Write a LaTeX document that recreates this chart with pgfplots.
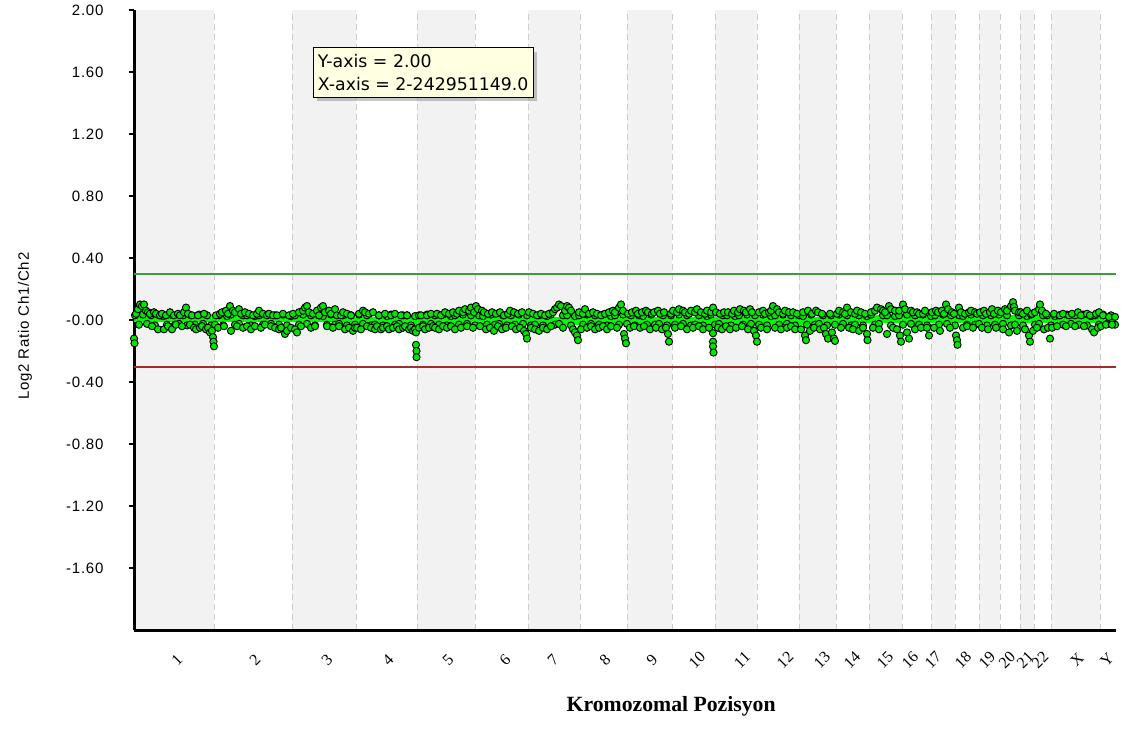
\documentclass[border=0pt]{standalone}
\usepackage{pgfplots}
\pgfplotsset{compat=1.18}
\usepackage{pgfplotstable}
\usepackage{fontspec}
\setmainfont{Liberation Serif}
\newfontfamily\arialfont{Liberation Sans}[LetterSpace=5]
\newfontfamily\tipfont{DejaVu Sans}
\usetikzlibrary{shadows}
\definecolor{bandgray}{RGB}{242,242,242}
\definecolor{gridgray}{RGB}{205,205,205}
\definecolor{ptgreen}{RGB}{0,230,0}
\definecolor{segline}{RGB}{0,255,0}
\definecolor{thrgreen}{RGB}{60,155,60}
\definecolor{thrred}{RGB}{160,45,45}
\definecolor{tipyellow}{RGB}{255,255,225}

\pgfplotstableread[row sep=\\]{
x y\\
0 -0.12\\ 0.5 -0.15\\ 2 0.04\\ 4 0.07\\ 6 0.1\\ 8 0.09\\ 10 0.1\\ 12 0.06\\ 14 0.05\\ 16 0.04\\
18 -0.04\\ 20 0.05\\ 22 0.04\\ 24 -0.06\\ 26 0.03\\ 28 0.04\\ 30 -0.06\\ 32 0.03\\ 34 -0.04\\ 36 0.05\\
38 -0.06\\ 40 0.03\\ 42 -0.03\\ 44 0.04\\ 46 0.03\\ 48 -0.04\\ 50 0.05\\ 52 0.08\\ 54 0.04\\ 56 -0.03\\
58 0.03\\ 60 -0.05\\ 62 -0.06\\ 64 0.03\\ 66 -0.05\\ 68 -0.04\\ 70 0.04\\ 72 -0.06\\ 74 -0.05\\ 76 -0.08\\
78 -0.07\\ 79 -0.11\\ 79.5 -0.14\\ 80 -0.17\\
82 0.03\\ 84 -0.05\\ 86 0.04\\ 88 0.05\\ 90 -0.04\\ 92 0.06\\ 94 0.04\\ 96 0.09\\ 97 -0.07\\ 99 0.06\\
101 0.05\\ 103 -0.04\\ 105 0.07\\ 107 0.04\\ 109 -0.05\\ 111 0.05\\ 113 -0.04\\ 115 0.04\\ 117 -0.06\\ 119 0.03\\
121 -0.04\\ 123 0.04\\ 125 0.06\\ 127 -0.05\\ 129 0.04\\ 131 -0.03\\ 133 0.03\\ 135 0.04\\ 137 -0.04\\ 139 0.03\\
141 -0.05\\ 143 0.03\\ 145 -0.06\\ 147 -0.05\\ 149 0.04\\ 151 -0.09\\ 153 -0.07\\ 155 0.03\\ 157 -0.05\\
159 0.04\\ 161 -0.06\\ 163 -0.08\\ 165 0.05\\ 167 -0.04\\ 169 0.06\\ 171 0.08\\ 173 0.09\\ 175 0.05\\ 177 -0.05\\
179 0.04\\ 181 -0.04\\ 183 0.06\\ 185 0.03\\ 187 0.08\\ 189 0.09\\ 191 0.05\\ 193 -0.04\\ 195 0.06\\ 197 0.04\\
199 -0.05\\ 201 0.07\\ 203 0.03\\ 205 -0.04\\ 207 0.03\\ 209 0.05\\ 211 -0.06\\ 213 0.04\\ 215 -0.05\\ 217 0.03\\
219 -0.07\\ 221 -0.05\\
223 -0.05\\ 225 0.04\\ 227 -0.06\\ 229 0.06\\ 231 0.05\\ 233 -0.04\\ 235 0.04\\ 237 -0.05\\ 239 0.05\\ 241 -0.06\\
243 -0.04\\ 245 0.03\\ 247 -0.06\\ 249 -0.05\\ 251 0.04\\ 253 -0.04\\ 255 -0.06\\ 257 0.03\\ 259 -0.05\\ 261 0.04\\
263 -0.04\\ 265 -0.06\\ 267 0.03\\ 269 -0.05\\ 271 -0.04\\ 273 0.03\\ 275 -0.06\\ 277 -0.05\\ 279 -0.07\\ 281 -0.06\\
282 -0.08\\ 282 -0.16\\ 282.5 -0.2\\ 282.5 -0.24\\
285 -0.05\\ 287 0.03\\ 289 -0.04\\ 291 -0.06\\ 293 0.03\\ 295 -0.05\\ 297 0.04\\ 299 -0.04\\ 301 -0.05\\ 303 0.04\\
305 -0.06\\ 307 0.03\\ 309 -0.04\\ 311 0.05\\ 313 -0.05\\ 315 0.04\\ 317 -0.04\\ 319 0.05\\ 321 -0.06\\ 323 0.04\\
325 0.06\\ 327 -0.05\\ 329 0.05\\ 331 0.07\\ 333 -0.04\\ 335 0.06\\ 337 0.08\\ 339 -0.05\\ 340 0.05\\
342 0.09\\ 344 0.07\\ 346 -0.04\\ 348 0.06\\ 350 0.05\\ 352 -0.06\\ 354 0.04\\ 356 -0.05\\ 358 0.05\\ 360 -0.07\\
362 0.04\\ 364 -0.04\\ 366 0.05\\ 368 -0.06\\ 370 0.03\\ 372 -0.05\\ 374 0.04\\ 376 0.06\\ 378 -0.04\\ 380 0.05\\
382 -0.06\\ 384 0.04\\ 386 -0.05\\ 388 0.05\\ 390 -0.07\\ 392 -0.09\\ 393 -0.12\\
395 0.05\\ 397 -0.05\\ 399 0.04\\ 401 -0.06\\ 403 0.03\\ 405 -0.07\\ 407 0.04\\ 409 -0.05\\ 411 0.03\\ 413 -0.06\\
415 0.04\\ 417 -0.04\\ 419 0.05\\ 421 0.07\\ 423 0.08\\ 425 0.1\\ 427 0.09\\ 429 -0.05\\ 431 0.06\\ 433 0.09\\
435 0.08\\ 437 0.06\\ 439 -0.06\\ 441 -0.08\\ 443 -0.1\\ 444 -0.13\\ 445 0.05\\
447 -0.06\\ 449 0.04\\ 451 0.07\\ 453 -0.05\\ 455 0.04\\ 457 -0.04\\ 459 0.05\\ 461 -0.06\\ 463 0.04\\ 465 -0.05\\
467 0.03\\ 469 -0.04\\ 471 0.04\\ 473 -0.06\\ 475 0.05\\ 477 -0.04\\ 479 0.06\\ 481 0.05\\ 483 -0.05\\ 485 0.08\\
487 0.1\\ 489 0.06\\ 490 -0.09\\ 491 -0.12\\ 492 -0.15\\
494 0.04\\ 496 -0.05\\ 498 0.05\\ 500 -0.04\\ 502 0.06\\ 504 0.04\\ 506 -0.05\\ 508 0.05\\ 510 -0.04\\ 512 0.06\\
514 0.05\\ 516 -0.06\\ 518 0.04\\ 520 0.05\\ 522 -0.05\\ 524 0.06\\ 526 0.04\\ 528 -0.06\\ 530 0.05\\ 532 -0.05\\
534 -0.09\\ 535 -0.14\\ 537 0.04\\
539 0.06\\ 541 -0.05\\ 543 0.05\\ 545 0.07\\ 547 -0.04\\ 549 0.06\\ 551 0.05\\ 553 -0.06\\ 555 0.04\\ 557 0.06\\
559 -0.05\\ 561 0.05\\ 563 0.07\\ 565 -0.04\\ 567 0.05\\ 569 -0.06\\ 571 0.04\\ 573 0.06\\ 575 -0.05\\ 577 0.05\\
579 0.08\\ 579 -0.085\\ 579 -0.14\\ 579 -0.17\\ 579.5 -0.21\\
582 0.05\\ 584 -0.05\\ 586 0.04\\ 588 -0.06\\ 590 0.05\\ 592 -0.04\\ 594 0.05\\ 596 -0.06\\ 598 0.04\\ 600 0.06\\
602 -0.05\\ 604 0.05\\ 606 0.07\\ 608 -0.04\\ 610 0.06\\ 612 0.05\\ 614 -0.06\\ 616 0.07\\ 618 0.05\\ 620 -0.07\\
622 -0.1\\ 623 -0.14\\
625 0.05\\ 627 -0.05\\ 629 0.06\\ 631 0.04\\ 633 -0.06\\ 635 0.05\\ 637 0.06\\ 639 0.09\\ 641 -0.05\\ 643 0.07\\
645 0.05\\ 647 -0.06\\ 649 0.04\\ 651 0.06\\ 653 -0.05\\ 655 0.05\\ 657 -0.04\\ 659 0.05\\ 661 -0.06\\ 663 0.04\\
667 -0.06\\ 669 0.05\\ 671 -0.1\\ 672 -0.13\\ 674 0.06\\ 676 -0.07\\ 678 0.04\\ 680 -0.05\\ 682 0.06\\ 684 0.05\\
686 -0.06\\ 688 0.04\\ 690 -0.05\\ 692 -0.09\\ 694 -0.12\\ 696 0.04\\ 698 -0.08\\ 700 -0.12\\ 701 -0.135\\
703 0.04\\ 705 0.06\\ 707 -0.05\\ 709 0.05\\ 711 0.04\\ 713 0.08\\ 715 -0.05\\ 717 0.05\\ 719 -0.06\\ 721 0.04\\
723 0.06\\ 725 -0.07\\ 727 0.05\\ 729 -0.05\\ 731 0.04\\ 733 -0.09\\ 733.5 -0.13\\
737 0.05\\ 739 -0.05\\ 741 0.06\\ 743 0.08\\ 745 -0.06\\ 747 0.07\\ 749 0.06\\ 751 0.05\\ 753 -0.09\\ 755 0.09\\
757 0.07\\ 759 -0.05\\ 761 0.06\\ 763 -0.06\\ 765 0.06\\ 766 -0.1\\ 767 -0.14\\
769 0.1\\ 771 0.07\\ 773 -0.08\\ 775 -0.12\\ 777 0.06\\ 779 0.05\\ 781 -0.06\\ 783 0.05\\ 785 0.04\\ 787 -0.05\\
789 0.04\\ 791 0.06\\ 793 -0.05\\ 795 -0.1\\
798 0.05\\ 800 -0.05\\ 802 0.06\\ 804 0.05\\ 806 -0.07\\ 808 0.06\\ 810 0.04\\ 812 0.1\\ 814 0.07\\ 816 -0.05\\
818 0.05\\ 820 0.04\\
822 -0.1\\ 823 -0.13\\ 823.5 -0.16\\ 825 0.08\\ 827 0.05\\ 829 -0.05\\ 831 0.04\\ 833 -0.04\\ 835 0.05\\ 837 0.06\\
839 -0.05\\ 841 0.05\\ 843 0.04\\
846 0.05\\ 848 -0.05\\ 850 0.06\\ 852 0.04\\ 854 -0.06\\ 856 0.05\\ 858 0.07\\ 860 0.04\\ 862 -0.05\\ 864 0.06\\
867 0.05\\ 869 -0.06\\ 871 0.07\\ 873 0.06\\ 875 -0.08\\ 877 0.09\\ 879 0.115\\ 880 0.085\\ 881 0.06\\ 883 -0.07\\
885 0.05\\
887 0.05\\ 889 0.04\\ 891 -0.06\\ 893 0.06\\ 895 -0.1\\ 896 -0.14\\ 898 0.04\\ 899 -0.07\\
901 0.05\\ 903 -0.05\\ 905 0.07\\ 906 0.1\\ 908 0.06\\ 910 -0.06\\ 912 0.04\\ 914 -0.05\\ 916 -0.12\\
918 -0.05\\ 920 0.04\\ 923 -0.04\\ 926 0.03\\ 929 0.04\\ 932 -0.04\\ 935 0.03\\ 938 0.04\\ 941 -0.04\\ 944 0.05\\
947 0.03\\ 950 -0.04\\ 953 0.04\\ 956 0.03\\ 958 -0.06\\ 960 -0.08\\ 962 0.04\\ 964 -0.05\\ 965 0.05\\
967 -0.04\\ 969 0.03\\ 972 -0.03\\ 975 0.02\\ 978 -0.03\\ 981 0.02\\
}\probes

\pgfplotstableread[row sep=\\]{
x y\\
1 0.03\\ 5 -0.03\\ 9 0.035\\ 13 -0.025\\ 17 0.03\\ 21 -0.035\\ 25 0.03\\ 29 0.025\\ 33 -0.03\\ 37 0.035\\ 41 -0.03\\ 45 -0.025\\ 49 0.03\\ 53 -0.035\\ 57 0.03\\ 61 -0.03\\ 65 0.035\\ 69 -0.025\\ 73 0.03\\ 77 -0.035\\
81 -0.03\\ 85 0.03\\ 89 -0.035\\ 93 0.025\\ 97 0.035\\ 101 -0.03\\ 105 -0.025\\ 109 0.03\\ 113 0.03\\ 117 -0.035\\ 121 0.025\\ 125 0.03\\ 129 -0.03\\ 133 0.035\\ 137 -0.025\\ 141 0.03\\ 145 -0.03\\ 149 0.035\\ 153 -0.035\\ 157 0.025\\
161 0.03\\ 165 -0.03\\ 169 0.035\\ 173 -0.025\\ 177 0.03\\ 181 -0.035\\ 185 0.03\\ 189 0.025\\ 193 -0.03\\ 197 0.035\\ 201 -0.03\\ 205 -0.025\\ 209 0.03\\ 213 -0.035\\ 217 0.03\\ 221 -0.03\\ 225 0.035\\ 229 -0.025\\ 233 0.03\\ 237 -0.035\\
241 -0.03\\ 245 0.03\\ 249 -0.035\\ 253 0.025\\ 257 0.035\\ 261 -0.03\\ 265 -0.025\\ 269 0.03\\ 273 0.03\\ 277 -0.035\\ 281 0.025\\ 285 0.03\\ 289 -0.03\\ 293 0.035\\ 297 -0.025\\ 301 0.03\\ 305 -0.03\\ 309 0.035\\ 313 -0.035\\ 317 0.025\\
321 0.03\\ 325 -0.03\\ 329 0.035\\ 333 -0.025\\ 337 0.03\\ 341 -0.035\\ 345 0.03\\ 349 0.025\\ 353 -0.03\\ 357 0.035\\ 361 -0.03\\ 365 -0.025\\ 369 0.03\\ 373 -0.035\\ 377 0.03\\ 381 -0.03\\ 385 0.035\\ 389 -0.025\\ 393 0.03\\ 397 -0.035\\
401 -0.03\\ 405 0.03\\ 409 -0.035\\ 413 0.025\\ 417 0.035\\ 421 -0.03\\ 425 -0.025\\ 429 0.03\\ 433 0.03\\ 437 -0.035\\ 441 0.025\\ 445 0.03\\ 449 -0.03\\ 453 0.035\\ 457 -0.025\\ 461 0.03\\ 465 -0.03\\ 469 0.035\\ 473 -0.035\\ 477 0.025\\
481 0.03\\ 485 -0.03\\ 489 0.035\\ 493 -0.025\\ 497 0.03\\ 501 -0.035\\ 505 0.03\\ 509 0.025\\ 513 -0.03\\ 517 0.035\\ 521 -0.03\\ 525 -0.025\\ 529 0.03\\ 533 -0.035\\ 537 0.03\\ 541 -0.03\\ 545 0.035\\ 549 -0.025\\ 553 0.03\\ 557 -0.035\\
561 -0.03\\ 565 0.03\\ 569 -0.035\\ 573 0.025\\ 577 0.035\\ 581 -0.03\\ 585 -0.025\\ 589 0.03\\ 593 0.03\\ 597 -0.035\\ 601 0.025\\ 605 0.03\\ 609 -0.03\\ 613 0.035\\ 617 -0.025\\ 621 0.03\\ 625 -0.03\\ 629 0.035\\ 633 -0.035\\ 637 0.025\\
641 0.03\\ 645 -0.03\\ 649 0.035\\ 653 -0.025\\ 657 0.03\\ 661 -0.035\\ 665 0.03\\ 669 0.025\\ 673 -0.03\\ 677 0.035\\ 681 -0.03\\ 685 -0.025\\ 689 0.03\\ 693 -0.035\\ 697 0.03\\ 701 -0.03\\ 705 0.035\\ 709 -0.025\\ 713 0.03\\ 717 -0.035\\
721 -0.03\\ 725 0.03\\ 729 -0.035\\ 733 0.025\\ 737 0.035\\ 741 -0.03\\ 745 -0.025\\ 749 0.03\\ 753 0.03\\ 757 -0.035\\ 761 0.025\\ 765 0.03\\ 769 -0.03\\ 773 0.035\\ 777 -0.025\\ 781 0.03\\ 785 -0.03\\ 789 0.035\\ 793 -0.035\\ 797 0.025\\
801 0.03\\ 805 -0.03\\ 809 0.035\\ 813 -0.025\\ 817 0.03\\ 821 -0.035\\ 825 0.03\\ 829 0.025\\ 833 -0.03\\ 837 0.035\\ 841 -0.03\\ 845 -0.025\\ 849 0.03\\ 853 -0.035\\ 857 0.03\\ 861 -0.03\\ 865 0.035\\ 869 -0.025\\ 873 0.03\\ 877 -0.035\\
881 -0.03\\ 885 0.03\\ 889 -0.035\\ 893 0.025\\ 897 0.035\\ 901 -0.03\\ 905 -0.025\\ 909 0.03\\ 913 0.03\\ 917 -0.035\\ 921 0.025\\ 925 0.03\\ 929 -0.03\\ 933 0.035\\ 937 -0.025\\ 941 0.03\\ 945 -0.03\\ 949 0.035\\ 953 -0.035\\ 957 0.025\\
961 0.03\\ 965 -0.03\\ 969 0.035\\ 973 -0.025\\ 977 0.03\\ 981 -0.03\\
}\fringe

\begin{document}
\begin{tikzpicture}
\begin{axis}[
  set layers,
  width=736.5pt, height=465pt, scale only axis,
  xmin=0, xmax=982, ymin=-2, ymax=2,
  axis lines*=left,
  axis line style={line width=2.25pt},
  tick align=outside,
  major tick length=3.75pt,
  ytick style={black, line width=0.8pt},
  xtick style={draw=none},
  ytick={-1.6,-1.2,-0.8,-0.4,0,0.4,0.8,1.2,1.6,2},
  yticklabels={-1.60,-1.20,-0.80,-0.40,-0.00,0.40,0.80,1.20,1.60,2.00},
  yticklabel style={font=\arialfont\fontsize{11.25}{13}\selectfont, anchor=east, inner sep=0pt, xshift=-19pt},
  xtick={43,121,193,254,314,371,419,471,518,563,608,651,688,718,751,776,799,829,853,873,891,906,943,973},
  xticklabels={1,2,3,4,5,6,7,8,9,10,11,12,13,14,15,16,17,18,19,20,21,22,X,Y},
  xticklabel style={font=\fontsize{12}{14}\selectfont, yshift=-18.75pt, rotate=45, anchor=center, inner sep=0pt},
  extra x ticks={80,158,222,283,341,394,446,493,538,581,623,665,702,735,768,797,821,845,866,886,900,917,966},
  extra x tick labels={},
  extra x tick style={grid=major},
  major grid style={color=gridgray, line width=0.75pt, dash pattern=on 4.5pt off 3pt},
  xlabel={\bfseries Kromozomal Pozisyon},
  xlabel style={font=\fontsize{16.3}{19}\selectfont, at={(axis description cs:0.547,0)}, anchor=center, yshift=-57pt},
  ylabel={Log2 Ratio Ch1/Ch2},
  ylabel style={font=\arialfont\fontsize{11.25}{13}\selectfont, at={(axis description cs:-0.111,0.49)}, anchor=center},
  clip=false,
]
% chromosome bands
\addplot[draw=none, fill=bandgray, on layer=axis background] coordinates {(0,-2)(0,2)(80,2)(80,-2)};
\addplot[draw=none, fill=bandgray, on layer=axis background] coordinates {(158,-2)(158,2)(222,2)(222,-2)};
\addplot[draw=none, fill=bandgray, on layer=axis background] coordinates {(283,-2)(283,2)(341,2)(341,-2)};
\addplot[draw=none, fill=bandgray, on layer=axis background] coordinates {(394,-2)(394,2)(446,2)(446,-2)};
\addplot[draw=none, fill=bandgray, on layer=axis background] coordinates {(493,-2)(493,2)(538,2)(538,-2)};
\addplot[draw=none, fill=bandgray, on layer=axis background] coordinates {(581,-2)(581,2)(623,2)(623,-2)};
\addplot[draw=none, fill=bandgray, on layer=axis background] coordinates {(665,-2)(665,2)(702,2)(702,-2)};
\addplot[draw=none, fill=bandgray, on layer=axis background] coordinates {(735,-2)(735,2)(768,2)(768,-2)};
\addplot[draw=none, fill=bandgray, on layer=axis background] coordinates {(797,-2)(797,2)(821,2)(821,-2)};
\addplot[draw=none, fill=bandgray, on layer=axis background] coordinates {(845,-2)(845,2)(866,2)(866,-2)};
\addplot[draw=none, fill=bandgray, on layer=axis background] coordinates {(886,-2)(886,2)(900,2)(900,-2)};
\addplot[draw=none, fill=bandgray, on layer=axis background] coordinates {(917,-2)(917,2)(966,2)(966,-2)};
% thresholds
\addplot[thrgreen, line width=1.5pt] coordinates {(0,0.3)(982,0.3)};
\addplot[thrred, line width=1.5pt] coordinates {(0,-0.3)(982,-0.3)};
% probes
\addplot[only marks, mark=*, mark size=2.7pt, mark options={draw=black, fill=ptgreen, line width=0.7pt}] table {\fringe};
\addplot[only marks, mark=*, mark size=2.7pt, mark options={draw=black, fill=ptgreen, line width=0.7pt}] table {\probes};
% segments
\addplot[segline, line width=6pt] coordinates {(0,0.012)(209,0.012)(209,-0.006)(702,-0.006)(702,0.006)(982,0.006)};
\node[draw=black, line width=0.8pt, fill=tipyellow, anchor=north west, align=left, inner xsep=3.5pt, inner ysep=5pt,
  font=\tipfont\fontsize{13}{17}\selectfont,
  drop shadow={shadow xshift=3pt, shadow yshift=-3pt, opacity=0.45}]
  at (rel axis cs:0.182,0.940) {Y-axis = 2.00\\X-axis = 2-242951149.0};
\end{axis}
\useasboundingbox (-100.5pt,-74.25pt) rectangle (741pt,472.5pt);
\end{tikzpicture}
\end{document}
